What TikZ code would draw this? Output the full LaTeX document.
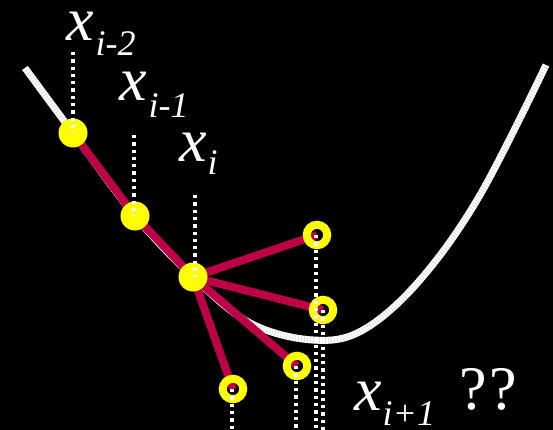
\documentclass[tikz,border=0pt]{standalone}
\usepackage{fontspec}
\setmainfont{Liberation Serif}
\definecolor{crimsonline}{RGB}{190,0,72}
\definecolor{dotyellow}{RGB}{255,255,0}
\newcommand{\bigx}{\fontsize{62}{62}\selectfont\itshape}
\newcommand{\bigq}{\fontsize{62}{62}\selectfont\upshape}
\newcommand{\subx}{\fontsize{36}{36}\selectfont\itshape}
\begin{document}
\begin{tikzpicture}[x=1pt,y=-1pt,
  curveline/.style={white,line width=7pt},
  curvetex/.style={white!82!black,line width=7pt,dash pattern=on 0.5pt off 2.5pt},
  redline/.style={crimsonline,line width=8pt},
  fulldot/.style={circle,fill=dotyellow,minimum size=29pt,inner sep=0pt},
  ringdot/.style={circle,draw=dotyellow,line width=8pt,minimum size=20.5pt,inner sep=0pt},
  dotline/.style={white,line width=3.3pt,dash pattern=on 3.3pt off 4pt},
  lab/.style={anchor=base west,inner sep=0pt,white}]
\fill[black] (0,0) rectangle (553,430);
\useasboundingbox (0,0) rectangle (553,430);
% anchor points
\coordinate (c1) at (73,133);
\coordinate (c2) at (135,216);
\coordinate (c3) at (193,277);
\coordinate (d1) at (317,235);
\coordinate (d2) at (323,310);
\coordinate (d3) at (297,366);
\coordinate (d4) at (233,389);
% curve
\def\curvepts{(25,68) (c1) (c2) (c3) (250,323) (313,340) (363,330) (420,280) (480,195) (546,65)}
\draw[curveline] plot[smooth,tension=0.6] coordinates {\curvepts};
\draw[curvetex] plot[smooth,tension=0.6] coordinates {\curvepts};
% red segments
\draw[redline,line join=round] (c1) -- (c2) -- (c3);
\draw[redline] (c3) -- (d1);
\draw[redline] (c3) -- (d2);
\draw[redline] (c3) -- (d3);
\draw[redline] (c3) -- (d4);
% points
\node[fulldot] (p1) at (c1) {};
\node[fulldot] (p2) at (c2) {};
\node[fulldot] (p3) at (c3) {};
\node[ringdot] (q1) at (d1) {};
\node[ringdot] (q2) at (d2) {};
\node[ringdot] (q3) at (d3) {};
\node[ringdot] (q4) at (d4) {};
% dotted guides
\coordinate (t1) at (73,52);
\coordinate (t2) at (134,135);
\coordinate (t3) at (195,195);
\coordinate (b1) at (316,430);
\coordinate (b2) at (323,430);
\coordinate (b3) at (296,430);
\coordinate (b4) at (232,430);
\draw[dotline] (t1) -- (t1 |- p1.center);
\draw[dotline] (t2) -- (t2 |- p2.center);
\draw[dotline] (t3) -- (t3 |- p3.center);
\draw[dotline] (b1 |- q1.center) -- (b1);
\draw[dotline] (b2 |- q2.center) -- (b2);
\draw[dotline] (b3 |- q3.center) -- (b3);
\draw[dotline] (b4 |- q4.center) -- (b4);
% labels
\node[lab] (l1) at (66,41) {\bigx x\hspace{2pt}\raisebox{-15pt}{\subx i-2}};
\node[lab] (l2) at (119,101) {\bigx x\hspace{2pt}\raisebox{-17pt}{\subx i-1}};
\node[lab] (l3) at (179,162) {\bigx x\hspace{1pt}\raisebox{-13pt}{\subx i}};
\node[lab] (l4) at (354,410) {\bigx x\hspace{1pt}\raisebox{-15pt}{\subx i+1}};
\node[lab] (l5) at (459,409) {\bigq ?\hspace{3pt}?};
\end{tikzpicture}
\end{document}
